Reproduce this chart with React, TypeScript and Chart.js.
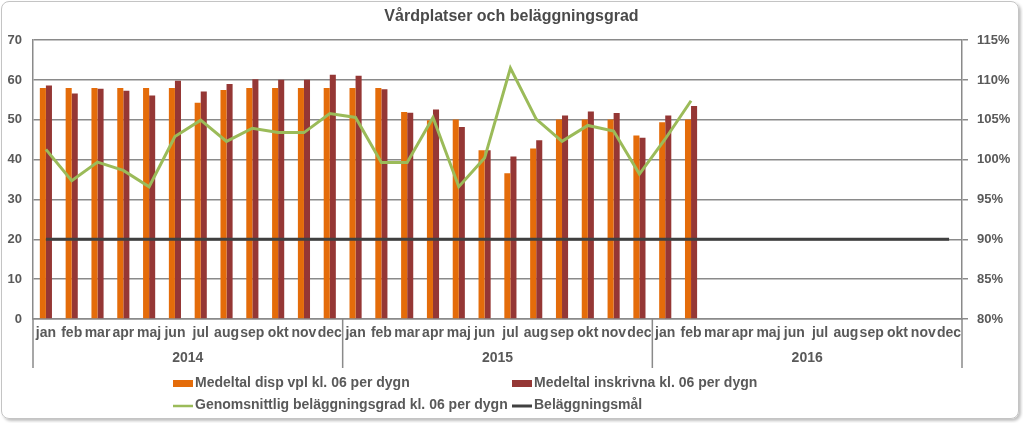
import React, { useEffect, useRef } from 'react';
import { Chart, registerables } from 'chart.js';

Chart.register(...registerables);

// ---------- data ----------
const months = ['jan', 'feb', 'mar', 'apr', 'maj', 'jun', 'jul', 'aug', 'sep', 'okt', 'nov', 'dec'];
const years = ['2014', '2015', '2016'];
const categories = years.flatMap(() => months);

const title = 'Vårdplatser och beläggningsgrad';
const seriesNames = [
  'Medeltal disp vpl kl. 06 per dygn',
  'Medeltal inskrivna kl. 06 per dygn',
  'Genomsnittlig beläggningsgrad kl. 06 per dygn',
  'Beläggningsmål',
];

const dispVpl = [
  58, 58, 58, 58, 58, 58, 54.3, 57.5, 58, 58, 58, 58,
  58, 58, 52, 49.9, 50.1, 42.4, 36.6, 42.8, 50.1, 50.1, 50.1, 46.1,
  49.4, 50.1, null, null, null, null, null, null, null, null, null, null,
];
const inskrivna = [
  58.6, 56.6, 57.8, 57.3, 56.1, 59.8, 57.1, 59.0, 60.2, 60.1, 60.1, 61.3,
  61.1, 57.7, 51.8, 52.6, 48.2, 42.4, 40.8, 44.9, 51.1, 52.1, 51.7, 45.5,
  51.1, 53.5, null, null, null, null, null, null, null, null, null, null,
];
const belaggningsgrad = [
  101.3, 97.35, 99.7, 98.65, 96.6, 102.9, 104.96, 102.3, 103.95, 103.4, 103.4, 105.8,
  105.3, 99.66, 99.66, 105.3, 96.6, 100.2, 111.5, 105.1, 102.3, 104.3, 103.6, 98.2,
  102.6, 107.4, null, null, null, null, null, null, null, null, null, null,
];
const belaggningsmal = [
  90, 90, 90, 90, 90, 90, 90, 90, 90, 90, 90, 90,
  90, 90, 90, 90, 90, 90, 90, 90, 90, 90, 90, 90,
  90, 90, 90, 90, 90, 90, 90, 90, 90, 90, 90, 90,
];

// ---------- styles ----------
const FONT = "'Liberation Sans', Arial, sans-serif";
const ORANGE = '#E46C0A';
const RED = '#953735';
const GREEN = '#9BBB59';
const GOAL = '#404040';
const GRID = '#8a8a8a';
const TEXT = '#595959';

const groupAxisPlugin = {
  id: 'groupAxis',
  afterDraw(chart: any) {
    const ctx = chart.ctx;
    const xs = chart.scales.x;
    const area = chart.chartArea;
    const n = categories.length;
    const w = (xs.right - xs.left) / n;
    ctx.save();
    ctx.strokeStyle = GRID;
    ctx.lineWidth = 1.5;
    for (let i = 0; i <= years.length; i++) {
      const px = xs.left + i * months.length * w;
      ctx.beginPath();
      ctx.moveTo(px, area.bottom);
      ctx.lineTo(px, area.bottom + 49);
      ctx.stroke();
    }
    ctx.fillStyle = TEXT;
    ctx.font = `bold 14px ${FONT}`;
    ctx.textAlign = 'center';
    ctx.textBaseline = 'middle';
    years.forEach((yr, i) => {
      const a = xs.getPixelForValue(i * 12);
      const b = xs.getPixelForValue(i * 12 + 11);
      ctx.fillText(yr, (a + b) / 2, area.bottom + 39);
    });

    // legend (2 x 2 grid)
    const cols = [173, 512];
    const rows = [383, 405];
    ctx.textAlign = 'left';
    ctx.font = `bold 14px ${FONT}`;
    const items = [
      { kind: 'box', color: ORANGE },
      { kind: 'box', color: RED },
      { kind: 'line', color: GREEN, width: 2.5 },
      { kind: 'line', color: GOAL, width: 3 },
    ];
    items.forEach((it, i) => {
      const x0 = cols[i % 2];
      const y0 = rows[Math.floor(i / 2)];
      if (it.kind === 'box') {
        ctx.fillStyle = it.color;
        ctx.fillRect(x0, y0 - 3, 20, 7);
      } else {
        ctx.strokeStyle = it.color;
        ctx.lineWidth = it.width;
        ctx.beginPath();
        ctx.moveTo(x0, y0 + 1);
        ctx.lineTo(x0 + 20, y0 + 1);
        ctx.stroke();
      }
      ctx.fillStyle = TEXT;
      ctx.fillText(seriesNames[i], x0 + 22, y0);
    });
    ctx.restore();
  },
};

export default function App() {
  const ref = useRef<HTMLCanvasElement | null>(null);

  useEffect(() => {
    if (!ref.current) return;
    const chart = new Chart(ref.current, {
      type: 'bar',
      data: {
        labels: categories,
        datasets: [
          {
            type: 'line',
            label: seriesNames[2],
            data: belaggningsgrad,
            yAxisID: 'y1',
            borderColor: GREEN,
            backgroundColor: GREEN,
            borderWidth: 3,
            pointRadius: 0,
            tension: 0,
            order: 0,
          },
          {
            type: 'line',
            label: seriesNames[3],
            data: belaggningsmal,
            yAxisID: 'y1',
            borderColor: GOAL,
            backgroundColor: GOAL,
            borderWidth: 3,
            pointRadius: 0,
            tension: 0,
            order: 1,
          },
          {
            type: 'bar',
            label: seriesNames[0],
            data: dispVpl,
            yAxisID: 'y',
            backgroundColor: ORANGE,
            categoryPercentage: 0.47,
            barPercentage: 1.0,
            order: 2,
          },
          {
            type: 'bar',
            label: seriesNames[1],
            data: inskrivna,
            yAxisID: 'y',
            backgroundColor: RED,
            categoryPercentage: 0.47,
            barPercentage: 1.0,
            order: 2,
          },
        ],
      } as any,
      options: {
        responsive: false,
        animation: false,
        devicePixelRatio: 1,
        events: [],
        layout: { padding: { top: 0, bottom: 54, left: 0, right: 0 } },
        plugins: {
          legend: { display: false },
          tooltip: { enabled: false },
          title: {
            display: true,
            text: title,
            color: '#4a4a4a',
            font: { family: FONT, size: 16, weight: 'bold' },
            padding: { top: 7, bottom: 14 },
            lineHeight: 1.2,
          },
        },
        scales: {
          x: {
            type: 'category',
            offset: true,
            grid: { display: false, drawTicks: false },
            border: { display: true, color: GRID, width: 1.5 },
            ticks: {
              autoSkip: false,
              maxRotation: 0,
              minRotation: 0,
              padding: 6,
              color: TEXT,
              font: { family: FONT, size: 14, weight: 'bold' },
            },
            afterFit: (s: any) => { s.height = 50; },
          },
          y: {
            position: 'left',
            min: 0,
            max: 70,
            ticks: {
              stepSize: 10,
              padding: 11,
              color: TEXT,
              font: { family: FONT, size: 13, weight: 'bold' },
            },
            grid: { color: GRID, lineWidth: 1.5, drawTicks: false },
            border: { display: true, color: GRID, width: 1.5 },
            afterFit: (s: any) => { s.width = 33; },
          },
          y1: {
            position: 'right',
            min: 80,
            max: 115,
            ticks: {
              stepSize: 5,
              padding: 9,
              color: TEXT,
              font: { family: FONT, size: 13, weight: 'bold' },
              callback: (v: any) => `${v}%`,
            },
            grid: { drawOnChartArea: false, color: GRID, lineWidth: 1.5, drawTicks: true, tickLength: 6 },
            border: { display: true, color: GRID, width: 1.5 },
            afterFit: (s: any) => { s.width = 61; },
          },
        },
      } as any,
      plugins: [groupAxisPlugin],
    });
    return () => chart.destroy();
  }, []);

  return (
    <div style={{ position: 'absolute', left: 0, top: 0, width: 1023, height: 423, background: '#fff' }}>
      <div
        style={{
          position: 'absolute',
          left: 1,
          top: 1,
          width: 1018,
          height: 418,
          boxSizing: 'border-box',
          border: '1px solid #c4c4c4',
          borderRadius: 8,
          boxShadow: '2px 2px 3px rgba(0,0,0,0.25)',
        }}
      />
      <canvas
        ref={ref}
        width={1023}
        height={423}
        style={{ position: 'absolute', left: 0, top: 0, width: 1023, height: 423, display: 'block' }}
      />
    </div>
  );
}
